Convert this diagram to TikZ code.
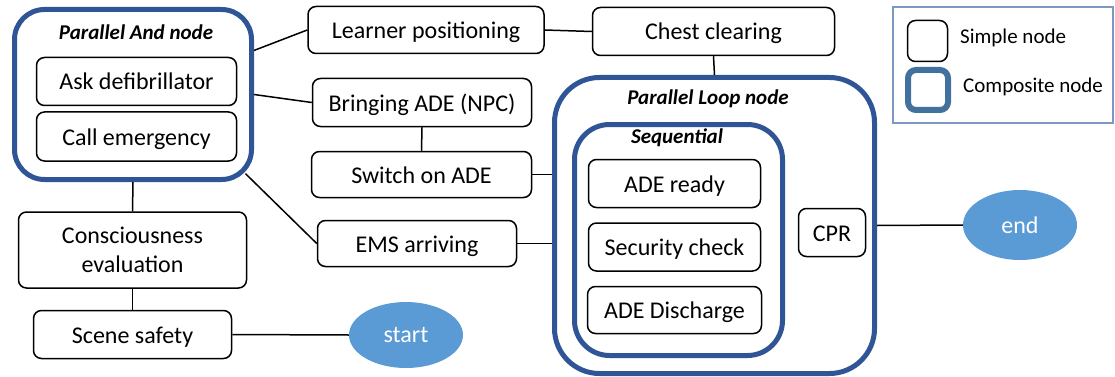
\documentclass[tikz,border=0pt]{standalone}
\usepackage{fontspec}
\setmainfont{Carlito}
\usepackage{xcolor}
\usetikzlibrary{shapes.geometric, positioning}

\definecolor{compblue}{RGB}{47,85,151}
\definecolor{legblue}{RGB}{65,113,156}
\definecolor{ovalblue}{RGB}{91,155,213}
\definecolor{framecol}{RGB}{125,152,196}

\begin{document}
\begin{tikzpicture}[x=1pt, y=-1pt,
    simple/.style={rectangle, rounded corners=8pt, draw=black, line width=1.5pt, fill=white, text centered, align=center, inner sep=0pt, text height=17pt, text depth=0pt, font=\fontsize{24}{29}\selectfont},
    composite/.style={rectangle, draw=compblue, line width=5pt, fill=white, inner sep=0pt},
    title/.style={inner sep=0pt, font=\fontsize{21}{25}\selectfont\bfseries\itshape},
    oval/.style={ellipse, fill=ovalblue, text=white, inner sep=0pt, minimum width=114pt, font=\fontsize{24}{29}\selectfont},
    legtext/.style={inner sep=0pt, font=\fontsize{21}{25}\selectfont},
    link/.style={draw=black, line width=1.5pt}
]
    \useasboundingbox (0,0) rectangle (1115,377);

    % composite nodes
    \node [composite, rounded corners=30pt, minimum width=237pt, minimum height=170pt] (andnode) at (133,94.5) {};
    \node [title] (andtitle) at (136,32) {Parallel And node};
    \node [composite, rounded corners=45pt, minimum width=320pt, minimum height=296pt] (loop) at (714.5,225.5) {};
    \node [title] (looptitle) at (708,99) {Parallel Loop node};
    \node [composite, rounded corners=35pt, minimum width=208pt, minimum height=231pt] (seq) at (678.5,240) {};
    \node [title] (seqtitle) at (677,138) {Sequential};

    % simple nodes
    \node [simple, minimum width=200pt, minimum height=48pt] (ask) at (136.5,81.5) {Ask defibrillator};
    \node [simple, minimum width=200pt, minimum height=49pt, below=5pt of ask] (call) {Call emergency};
    \node [simple, text height={}, text depth={}, minimum width=228pt, minimum height=76pt] (conscious) at (132.5,250) {Consciousness\\evaluation};
    \node [simple, minimum width=198pt, minimum height=48pt] (scene) at (132.5,334.5) {Scene safety};
    \node [simple, minimum width=236pt, minimum height=47pt] (learner) at (426,30) {Learner positioning};
    \node [simple, minimum width=242pt, minimum height=48pt] (chest) at (713.5,31.5) {Chest clearing};
    \node [simple, minimum width=219pt, minimum height=48pt] (bringing) at (422,102.5) {Bringing ADE (NPC)};
    \node [simple, minimum width=220pt, minimum height=46pt] (switch) at (421.5,174.5) {Switch on ADE};
    \node [simple, minimum width=199pt, minimum height=46pt] (ems) at (417,243.5) {EMS arriving};
    \node [simple, minimum width=172pt, minimum height=48pt] (ready) at (674.5,183.5) {ADE ready};
    \node [simple, minimum width=172pt, minimum height=48pt, below=14pt of ready] (security) {Security check};
    \node [simple, minimum width=174pt, minimum height=47pt, below=14pt of security] (discharge) {ADE Discharge};
    \node [simple, minimum width=67pt, minimum height=48pt] (cpr) at (832,232.5) {CPR};

    \node [oval, minimum height=66pt] (start) at (406,335) {start};
    \node [oval, minimum height=70pt] (end) at (1020,225) {end};

    % legend
    \node [draw=framecol, line width=1.2pt, minimum width=220pt, minimum height=116pt, inner sep=0pt] (legend) at (1003,65) {};
    \node [simple, minimum width=40pt, minimum height=41pt] (legsimple) at (927.5,41) {};
    \node [draw=legblue, line width=6pt, rounded corners=8pt, minimum width=40pt, minimum height=40pt, inner sep=0pt] (legcomp) at (928,90) {};
    \node [legtext, anchor=west] (legsimpletext) at (960,38) {Simple node};
    \node [legtext, anchor=west] (legcomptext) at (963,87) {Composite node};

    % connectors
    \path [link] (andnode.20) edge (learner.west);
    \path [link] (andnode.east) edge (bringing.west);
    \path [link] (andnode.south east) edge[shorten <=-12pt] (ems.west);
    \path [link] (andnode.south) edge (conscious.north);
    \path [link] (conscious.south) edge (scene.north);
    \path [link] (scene.east) edge (start.west);
    \path [link] (learner.east) edge (chest.west);
    \path [link] (chest.south) edge (loop.north);
    \path [link] (bringing.south) edge (switch.north);
    \path [link] (switch.east) edge (switch.east -| loop.west);
    \path [link] (ems.east) edge (ems.east -| loop.west);
    \path [link] (loop.east) edge (end.west);
\end{tikzpicture}
\end{document}
